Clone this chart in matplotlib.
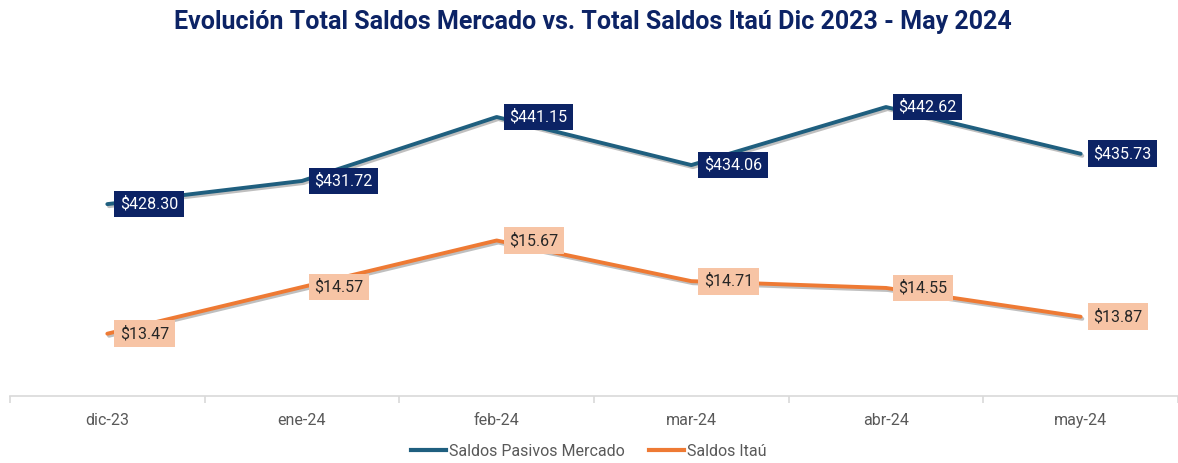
import matplotlib.pyplot as plt
import matplotlib.patheffects as pe
from matplotlib.lines import Line2D
import numpy as np

months = ['dic-23', 'ene-24', 'feb-24', 'mar-24', 'abr-24', 'may-24']
mercado = [428.30, 431.72, 441.15, 434.06, 442.62, 435.73]
itau = [13.47, 14.57, 15.67, 14.71, 14.55, 13.87]

blue = '#1f5f7f'
orange = '#ee7a34'
navy = '#0c2365'
peach = '#f7c4a5'

plt.rcParams['font.family'] = ['Roboto', 'DejaVu Sans']

fig = plt.figure(figsize=(11.78, 4.63), dpi=100)
ax1 = fig.add_axes([10 / 1178, 1 - 396 / 463, 1 - 10 / 1178, (396 - 57) / 463])
ax2 = ax1.twinx()

x = np.arange(len(months))
shadow = [pe.SimpleLineShadow(offset=(1.2, -1.5), alpha=0.25, shadow_color='black'), pe.Normal()]

ax1.plot(x, mercado, color=blue, lw=2.8, solid_capstyle='round', path_effects=shadow)
ax2.plot(x, itau, color=orange, lw=2.8, solid_capstyle='round', path_effects=shadow)

ax1.set_ylim(400, 450)
ax2.set_ylim(12, 20)
ax1.set_xlim(-0.5, 5.5)

for xi, v in zip(x, mercado):
    ax1.annotate('${:.2f}'.format(v), (xi, v), xytext=(9, 0), textcoords='offset points',
                 ha='left', va='center', fontsize=11.5, color='white',
                 bbox=dict(boxstyle='square,pad=0.35', fc=navy, ec='none'))
for xi, v in zip(x, itau):
    ax2.annotate('${:.2f}'.format(v), (xi, v), xytext=(9, 0), textcoords='offset points',
                 ha='left', va='center', fontsize=11.5, color='#262626',
                 bbox=dict(boxstyle='square,pad=0.35', fc=peach, ec='none'))

for a in (ax1, ax2):
    for s in ['top', 'right', 'left']:
        a.spines[s].set_visible(False)
    a.set_yticks([])
ax2.spines['bottom'].set_visible(False)
ax1.spines['bottom'].set_color('#d9d9d9')
ax1.spines['bottom'].set_linewidth(1.2)

ax1.set_xticks(x)
ax1.set_xticklabels(months, fontsize=11.5, color='#595959')
ax1.tick_params(axis='x', which='major', length=0, pad=12)
ax1.set_xticks(np.arange(-0.5, 6, 1), minor=True)
ax1.tick_params(axis='x', which='minor', length=5, color='#d9d9d9', width=1.2)

fig.text(0.503, 0.953, 'Evolución Total Saldos Mercado vs. Total Saldos Itaú Dic 2023 - May 2024',
         ha='center', va='center', fontsize=18, fontweight='bold', color=navy)

handles = [Line2D([], [], color=blue, lw=3), Line2D([], [], color=orange, lw=3)]
fig.legend(handles, ['Saldos Pasivos Mercado', 'Saldos Itaú'], loc='center',
           bbox_to_anchor=(0.5, 0.025), ncol=2, frameon=False, fontsize=11.5,
           labelcolor='#595959', handlelength=2.2, handletextpad=0.2, columnspacing=1.5)

fig.savefig('out.png', dpi=100)
